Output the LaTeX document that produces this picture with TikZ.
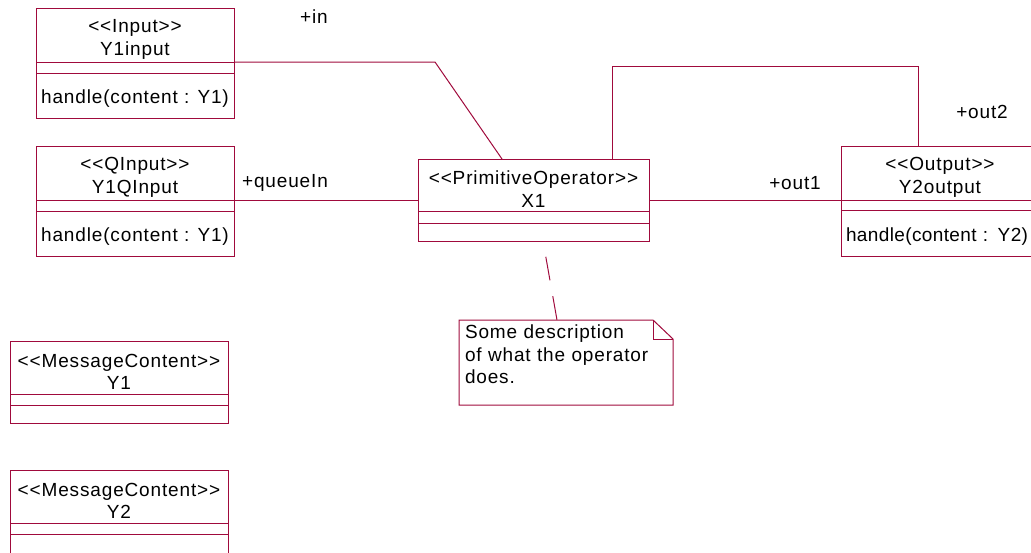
\documentclass[tikz,border=0pt]{standalone}
\usepackage{fontspec}
\newfontfamily\umlsans{Liberation Sans}[LetterSpace=4.5]
\usetikzlibrary{positioning,calc}
\definecolor{umlred}{RGB}{160,10,60}

\begin{document}
\begin{tikzpicture}[
        x=1pt, y=-1pt,
        umlfont/.style={font=\umlsans\fontsize{19}{22.5}\selectfont},
        box/.style={draw=umlred, line width=1pt, inner sep=0pt, outer sep=0pt, umlfont},
        head/.style={box, minimum height=54, align=center, text height=44},
        attr/.style={box, minimum height=11},
        oper/.style={box, minimum height=45, execute at begin node={\rule{0pt}{20pt}}},
        link/.style={draw=umlred, line width=1pt},
        role/.style={umlfont, inner sep=0pt},
        notetext/.style={umlfont, align=left, text width=202, inner xsep=6, inner ysep=5, outer sep=0pt},
    ]
        \useasboundingbox (0,0) rectangle (1031,552);
        \clip (0,0) rectangle (1031,552);

        % Input classes
        \node[head, minimum width=198, anchor=north west] (inp) at (36,8) {<<Input>>\\Y1input};
        \node[attr, minimum width=198, below=0pt of inp] (inp-a) {};
        \node[oper, minimum width=198, below=0pt of inp-a] (inp-o) {handle(content : Y1)};

        \node[head, minimum width=198, anchor=north west] (qinp) at (36,146) {<<QInput>>\\Y1QInput};
        \node[attr, minimum width=198, below=0pt of qinp] (qinp-a) {};
        \node[oper, minimum width=198, below=0pt of qinp-a] (qinp-o) {handle(content : Y1)};

        % Operator
        \node[head, minimum width=231, minimum height=52, anchor=north west] (op) at (418,159) {<<PrimitiveOperator>>\\X1};
        \node[attr, minimum width=231, minimum height=12, below=0pt of op] (op-a) {};
        \node[box, minimum width=231, minimum height=18, below=0pt of op-a] (op-o) {};

        % Output class
        \node[head, minimum width=198, anchor=north west] (outp) at (841,146) {<<Output>>\\Y2output};
        \node[attr, minimum width=198, minimum height=10, below=0pt of outp] (outp-a) {};
        \node[oper, minimum width=198, minimum height=46, text width=188, align=left,
            font=\umlsans\addfontfeature{LetterSpace=2}\fontsize{19}{22.5}\selectfont,
            below=0pt of outp-a] (outp-o) {handle(content : Y2)};

        % Message contents
        \node[head, minimum width=218, minimum height=53, anchor=north west] (msg1) at (10,341) {<<MessageContent>>\\Y1};
        \node[attr, minimum width=218, below=0pt of msg1] (msg1-a) {};
        \node[box, minimum width=218, minimum height=18, below=0pt of msg1-a] (msg1-o) {};

        \node[head, minimum width=218, minimum height=53, anchor=north west] (msg2) at (10,470) {<<MessageContent>>\\Y2};
        \node[attr, minimum width=218, below=0pt of msg2] (msg2-a) {};
        \node[box, minimum width=218, minimum height=22, below=0pt of msg2-a] (msg2-o) {};

        % Note
        \node[notetext, anchor=north west] (note) at (459,320) {Some description\\of what the operator\\does.};
        \draw[link] (note.north west) -- ++(194,0) -- ++(20,19) -- ++(0,66) -- ++(-214,0) -- cycle;
        \draw[link] ([xshift=194]note.north west) -- ++(0,19) -- ++(20,0);

        % Associations
        \draw[link] (inp.south east) -- ++(201,0) -- ([xshift=84]op.north west);
        \draw[link] (qinp.south east) -- (qinp.south east -| op.west);
        \draw[link] (op.east |- outp.south west) -- (outp.south west);
        \draw[link] ([xshift=194]op.north west) -- ++(0,-93) -| ([xshift=77]outp.north west);
        \draw[link, dash pattern=on 24pt off 16pt, dash phase=24pt] ([xshift=125]op-o.south west) -- ([xshift=98]note.north west);

        % Role names
        \node[role] (in-lbl) at (314,17) {+in};
        \node[role] (qin-lbl) at (285,183) {+queueIn};
        \node[role] (out1-lbl) at (795,183) {+out1};
        \node[role] (out2-lbl) at (982,112) {+out2};
    \end{tikzpicture}
\end{document}
